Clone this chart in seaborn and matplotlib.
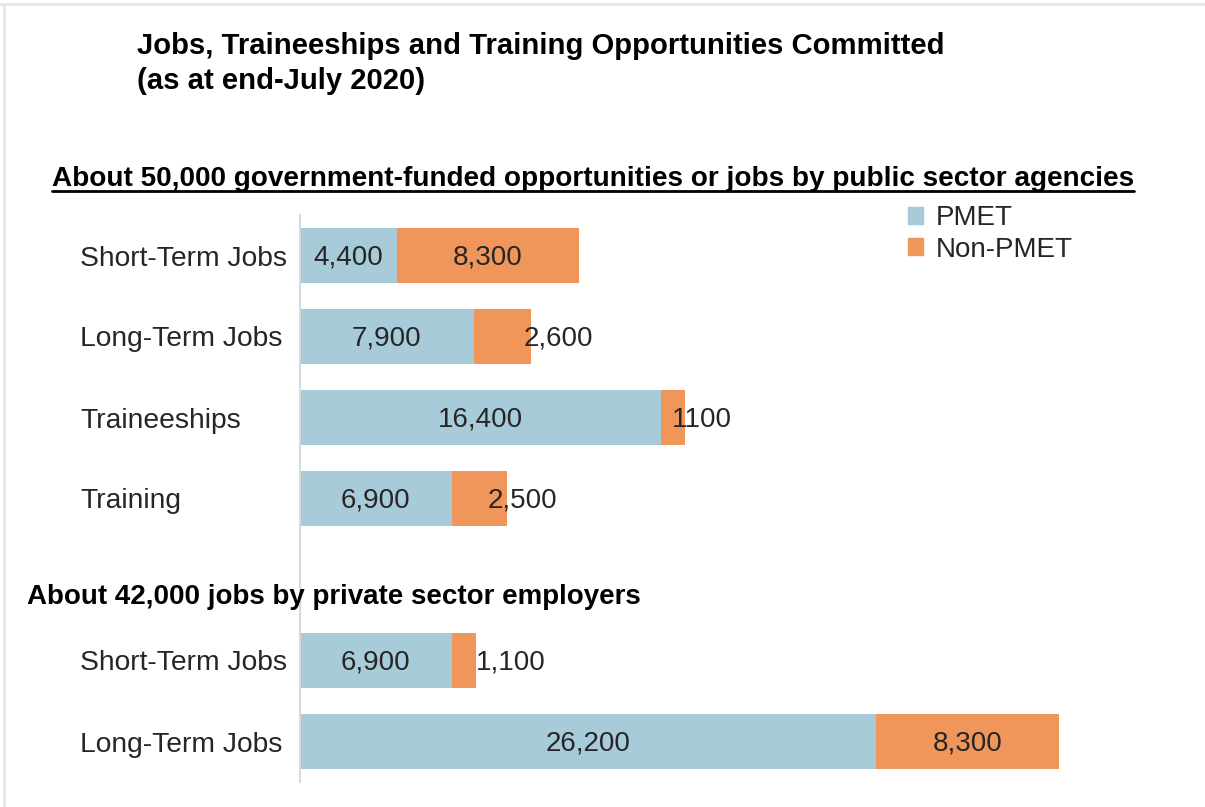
import numpy as np
import pandas as pd
import seaborn as sns
import matplotlib.pyplot as plt
from matplotlib.patches import Patch
from matplotlib.lines import Line2D

# row keys (one empty slot separates public and private sections)
row_ids = ["pub_short", "pub_long", "pub_trainee", "pub_training", "gap", "priv_short", "priv_long"]
row_labels = ["Short-Term Jobs", "Long-Term Jobs", "Traineeships", "Training", "",
              "Short-Term Jobs", "Long-Term Jobs"]
data_rows = ["pub_short", "pub_long", "pub_trainee", "pub_training", "priv_short", "priv_long"]
pmet = [4400, 7900, 16400, 6900, 6900, 26200]
non_pmet = [8300, 2600, 1100, 2500, 1100, 8300]
pmet_text = ["4,400", "7,900", "16,400", "6,900", "6,900", "26,200"]
non_pmet_text = ["8,300", "2,600", "1100", "2,500", "1,100", "8,300"]
# nudge (pixels) for the non-PMET labels that do not fit inside their bar
non_pmet_nudge = [0, 56, 29, 43, 47, 0]

BLUE = "#A7CBD9"
ORANGE = "#F0965A"
TEXT = "#262626"

sns.set_style("white")
plt.rcParams["font.family"] = ["Liberation Sans", "DejaVu Sans"]

df = pd.DataFrame({"row": data_rows, "PMET": pmet, "Non-PMET": non_pmet})
df["total"] = df["PMET"] + df["Non-PMET"]

W, H = 1205, 807
fig = plt.figure(figsize=(W / 100, H / 100), dpi=100)
ax = fig.add_axes([300 / W, 25 / H, 880 / W, 567 / H])

# stacked bars: total (orange) underneath, PMET (blue) on top
sns.barplot(data=df, x="total", y="row", order=row_ids, orient="h", color=ORANGE,
            saturation=1, width=0.667, errorbar=None, linewidth=0, ax=ax)
sns.barplot(data=df, x="PMET", y="row", order=row_ids, orient="h", color=BLUE,
            saturation=1, width=0.667, errorbar=None, linewidth=0, ax=ax)

ax.set_xlim(0, 40000)
ax.set_ylim(6.5, -0.5)
ax.set_xlabel("")
ax.set_ylabel("")
ax.set_xticks([])
ax.set_yticks(range(len(row_ids)))
ax.set_yticklabels(row_labels, ha="left", fontsize=20.3, color=TEXT)
ax.tick_params(axis="y", length=0, pad=220 * 0.72)
for side in ["top", "right", "bottom"]:
    ax.spines[side].set_visible(False)
ax.spines["left"].set_color("#d9d9d9")
ax.spines["left"].set_linewidth(1.5)

# value labels
for i, r in enumerate(data_rows):
    y = row_ids.index(r)
    ax.annotate(pmet_text[i], xy=(pmet[i] / 2, y), xytext=(0, -1.5),
                textcoords="offset points", ha="center", va="center",
                fontsize=20, color=TEXT)
    ax.annotate(non_pmet_text[i], xy=(pmet[i] + non_pmet[i] / 2, y),
                xytext=(non_pmet_nudge[i] * 0.72, -1.5), textcoords="offset points",
                ha="center", va="center", fontsize=20, color=TEXT)

# legend
handles = [Patch(color=BLUE, label="PMET"), Patch(color=ORANGE, label="Non-PMET")]
fig.legend(handles=handles, loc="upper left", bbox_to_anchor=(908 / W, 1 - 205 / H),
           frameon=False, fontsize=20, handlelength=0.55, handleheight=0.55,
           handletextpad=0.45, labelspacing=0.2, borderpad=0, borderaxespad=0,
           labelcolor=TEXT)

# titles
fig.text(137 / W, 1 - 32 / H, "Jobs, Traineeships and Training Opportunities Committed\n(as at end-July 2020)",
         ha="left", va="top", fontsize=21.1, weight="bold", color="black", linespacing=1.3)
sub = fig.text(52 / W, 1 - 179 / H,
               "About 50,000 government-funded opportunities or jobs by public sector agencies",
               ha="left", va="center", fontsize=20.1, weight="bold", color="black")
fig.text(27 / W, 1 - 597 / H, "About 42,000 jobs by private sector employers",
         ha="left", va="center", fontsize=20, weight="bold", color="black")

# underline the subheading
fig.canvas.draw()
bb = sub.get_window_extent().transformed(fig.transFigure.inverted())
fig.add_artist(Line2D([bb.x0, bb.x1], [bb.y0 + 1 / H, bb.y0 + 1 / H], color="black",
                      linewidth=2, transform=fig.transFigure))

# light frame at top and left
fig.add_artist(Line2D([0, 1], [1 - 4 / H, 1 - 4 / H], color="#e6e6e6", linewidth=2,
                      transform=fig.transFigure))
fig.add_artist(Line2D([4 / W, 4 / W], [0, 1 - 4 / H], color="#e6e6e6", linewidth=2,
                      transform=fig.transFigure))

fig.savefig("out.png", dpi=100)
